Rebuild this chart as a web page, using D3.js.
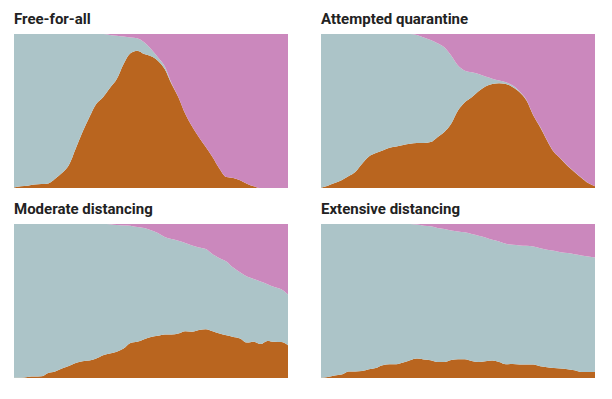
<!DOCTYPE html>
<html>
<head>
<meta charset="utf-8">
<script src="https://cdn.jsdelivr.net/npm/d3@7"></script>
<style>
  body { margin: 0; background: #fff; }
  svg { display: block; }
</style>
</head>
<body>
<div id="chart"></div>
<script>
// Share of the population per step (41 steps)
const titles = ["Free-for-all", "Attempted quarantine", "Moderate distancing", "Extensive distancing"];

const sickFree = [0.004, 0.011, 0.015, 0.022, 0.026, 0.030, 0.06, 0.097, 0.147, 0.255,
  0.363, 0.46, 0.546, 0.59, 0.65, 0.708, 0.806, 0.875, 0.892, 0.87,
  0.855, 0.827, 0.773, 0.676, 0.59, 0.482, 0.40, 0.33, 0.266, 0.20,
  0.125, 0.071, 0.065, 0.05, 0.028, 0.011, 0, 0, 0, 0, 0];
const recFree = [0, 0, 0, 0, 0, 0, 0, 0, 0, 0,
  0, 0, 0, 0, 0.006, 0.011, 0.017, 0.022, 0.028, 0.054,
  0.097, 0.151, 0.21, 0.32, 0.41, 0.518, 0.60, 0.67, 0.734, 0.80,
  0.875, 0.929, 0.935, 0.95, 0.972, 0.989, 1, 1, 1, 1, 1];

const sickQuar = [0.002, 0.015, 0.032, 0.05, 0.076, 0.104, 0.158, 0.205, 0.227, 0.244,
  0.261, 0.27, 0.279, 0.287, 0.292, 0.292, 0.298, 0.33, 0.363, 0.417,
  0.503, 0.557, 0.59, 0.628, 0.659, 0.676, 0.68, 0.676, 0.654, 0.622,
  0.568, 0.471, 0.395, 0.309, 0.233, 0.19, 0.143, 0.104, 0.067, 0.032, 0.011];
const recQuar = [0, 0, 0, 0, 0, 0, 0, 0, 0, 0,
  0, 0, 0, 0, 0.006, 0.022, 0.039, 0.06, 0.086, 0.14,
  0.205, 0.238, 0.248, 0.259, 0.276, 0.29, 0.302, 0.313, 0.335, 0.373,
  0.428, 0.527, 0.603, 0.69, 0.766, 0.809, 0.856, 0.895, 0.932, 0.967, 0.988];

const sickMod = [0.002, 0.002, 0.007, 0.009, 0.011, 0.033, 0.043, 0.061, 0.078, 0.098,
  0.109, 0.113, 0.126, 0.148, 0.159, 0.17, 0.191, 0.228, 0.235, 0.252,
  0.267, 0.274, 0.283, 0.283, 0.289, 0.304, 0.3, 0.311, 0.317, 0.304,
  0.289, 0.278, 0.267, 0.257, 0.23, 0.235, 0.22, 0.241, 0.235, 0.233, 0.213];
const recMod = [0, 0, 0, 0, 0, 0, 0, 0, 0, 0,
  0, 0, 0, 0, 0.002, 0.007, 0.009, 0.011, 0.02, 0.026,
  0.041, 0.059, 0.085, 0.098, 0.109, 0.124, 0.139, 0.152, 0.163, 0.196,
  0.222, 0.243, 0.283, 0.313, 0.341, 0.357, 0.374, 0.391, 0.409, 0.424, 0.457];

const sickExt = [0.002, 0.007, 0.017, 0.022, 0.043, 0.043, 0.046, 0.057, 0.065, 0.083,
  0.089, 0.089, 0.1, 0.115, 0.126, 0.12, 0.115, 0.104, 0.104, 0.117,
  0.122, 0.122, 0.111, 0.104, 0.109, 0.113, 0.104, 0.089, 0.091, 0.087,
  0.087, 0.087, 0.076, 0.07, 0.065, 0.061, 0.057, 0.05, 0.039, 0.039, 0.039];
const recExt = [0, 0, 0, 0, 0, 0, 0, 0, 0, 0,
  0, 0, 0, 0, 0.004, 0.011, 0.015, 0.026, 0.033, 0.043,
  0.048, 0.054, 0.065, 0.076, 0.087, 0.102, 0.113, 0.128, 0.135, 0.139,
  0.141, 0.146, 0.157, 0.167, 0.174, 0.183, 0.189, 0.196, 0.204, 0.211, 0.217];

const sickSeries = [sickFree, sickQuar, sickMod, sickExt];
const recSeries = [recFree, recQuar, recMod, recExt];

const colors = { sick: "#b9651f", healthy: "#acc4c8", recovered: "#cb88bd" };

const W = 612, H = 399;
const panelW = 274, panelH = 154;
const panelX = [14, 321];
const panelY = [34, 224];

const svg = d3.select("#chart").append("svg")
  .attr("width", W)
  .attr("height", H);

const x = d3.scaleLinear().domain([0, 40]).range([0, panelW]);
const y = d3.scaleLinear().domain([0, 1]).range([panelH, 0]);

const keys = ["sick", "healthy", "recovered"];
const stack = d3.stack().keys(keys);

const area = d3.area()
  .x(d => x(d.data.t))
  .y0(d => y(d[0]))
  .y1(d => y(d[1]))
  .curve(d3.curveMonotoneX);

titles.forEach((title, i) => {
  const px = panelX[i % 2], py = panelY[Math.floor(i / 2)];
  const sick = sickSeries[i], rec = recSeries[i];

  // healthy is whatever is left of the population
  const rows = sick.map((s, t) => ({
    t: t,
    sick: s,
    recovered: rec[t],
    healthy: Math.max(0, 1 - s - rec[t])
  }));

  const g = svg.append("g").attr("transform", `translate(${px},${py})`);

  g.selectAll("path")
    .data(stack(rows))
    .enter()
    .append("path")
    .attr("d", area)
    .attr("fill", d => colors[d.key]);

  svg.append("text")
    .attr("x", px)
    .attr("y", py - 10)
    .style("font-family", "Roboto, 'Liberation Sans', sans-serif")
    .style("font-weight", "bold")
    .style("font-size", "15px")
    .style("fill", "#222")
    .text(title);
});
</script>
</body>
</html>
